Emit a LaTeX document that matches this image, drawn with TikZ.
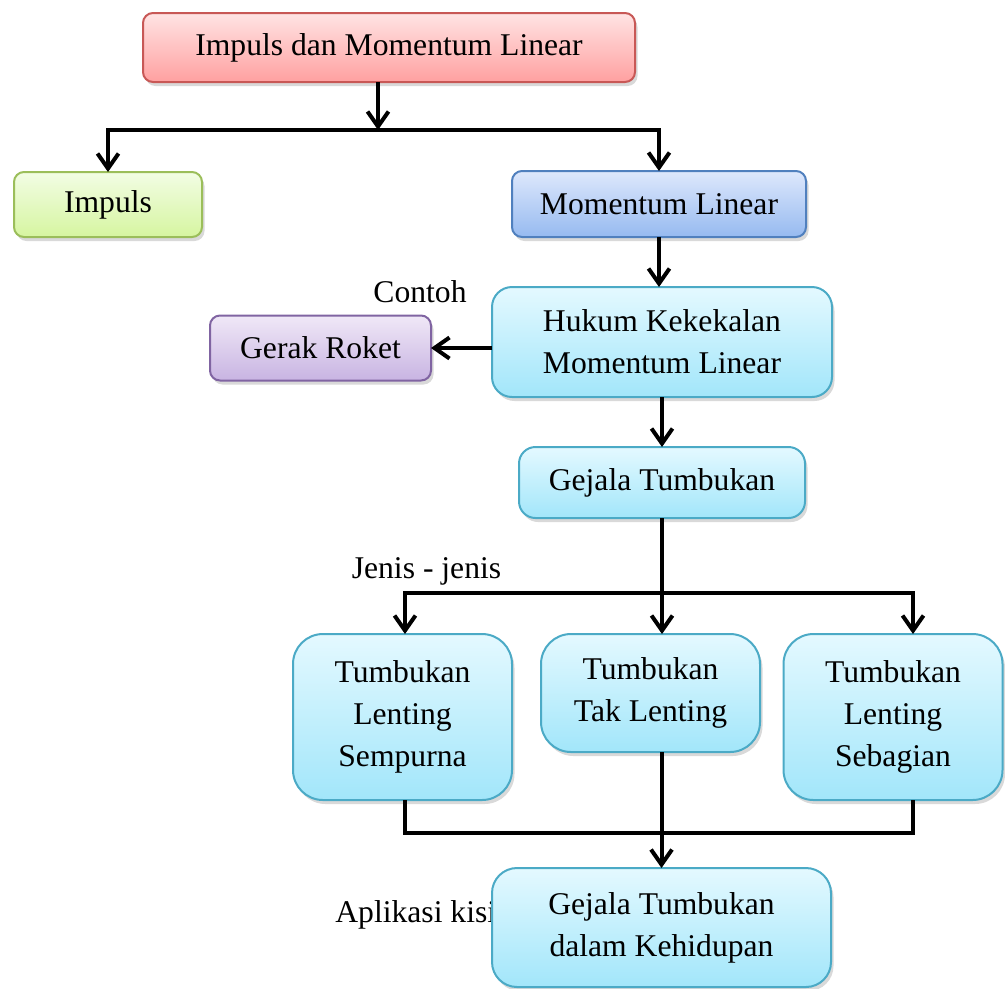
\documentclass[tikz,border=0pt]{standalone}
\usepackage{fontspec}
\setmainfont{Liberation Serif}
\usepackage{tikz}
\usetikzlibrary{positioning,shadows,arrows.meta}

\definecolor{redtop}{RGB}{255,228,228}
\definecolor{redbot}{RGB}{255,160,160}
\definecolor{redline}{RGB}{200,88,86}
\definecolor{greentop}{RGB}{242,253,228}
\definecolor{greenbot}{RGB}{214,245,160}
\definecolor{greenline}{RGB}{155,190,90}
\definecolor{bluetop}{RGB}{222,232,252}
\definecolor{bluebot}{RGB}{150,186,240}
\definecolor{blueline}{RGB}{80,128,190}
\definecolor{purpletop}{RGB}{240,232,247}
\definecolor{purplebot}{RGB}{200,180,226}
\definecolor{purpleline}{RGB}{128,100,162}
\definecolor{cyantop}{RGB}{228,249,255}
\definecolor{cyanbot}{RGB}{162,230,250}
\definecolor{cyanline}{RGB}{75,170,198}

\tikzstyle{arrow} = [line width=0.08cm, -{Straight Barb[length=0.3cm, width=0.42cm]}]
\tikzstyle{plainline} = [line width=0.08cm]
\tikzstyle{conceptnode} = [
    rectangle,                 % Shape
    draw,                      % Border
    line width=0.04cm,         % Thin border
    rounded corners=0.2cm,     % Rounded
    inner sep=0pt,
    outer sep=0pt,
    align=center,              % Centered text
    font={\fontsize{18}{24}\selectfont},
    drop shadow={shadow xshift=0.05cm, shadow yshift=-0.08cm, opacity=0.3}
]
\tikzstyle{redbox} = [conceptnode, top color=redtop, bottom color=redbot, draw=redline]
\tikzstyle{greenbox} = [conceptnode, top color=greentop, bottom color=greenbot, draw=greenline]
\tikzstyle{bluebox} = [conceptnode, top color=bluetop, bottom color=bluebot, draw=blueline]
\tikzstyle{purplebox} = [conceptnode, top color=purpletop, bottom color=purplebot, draw=purpleline]
\tikzstyle{cyanbox} = [conceptnode, top color=cyantop, bottom color=cyanbot, draw=cyanline]
\tikzstyle{lbl} = [inner sep=0pt, font={\fontsize{18}{24}\selectfont}]

\begin{document}
\begin{tikzpicture}
	\useasboundingbox (0,0) rectangle (20.1,-19.76);

	% Top-level concept
	\node[redbox, minimum width=9.84cm, minimum height=1.38cm] (game) at (7.78,-0.95) {Impuls dan Momentum Linear};

	% Impuls and momentum
	\node[greenbox, minimum width=3.76cm, minimum height=1.3cm, below=1.8cm of game, xshift=-5.62cm] (impuls) {Impuls};
	\node[bluebox, minimum width=5.88cm, minimum height=1.32cm, below=1.78cm of game, xshift=5.4cm] (ml) {Momentum Linear};

	% Conservation law
	\node[cyanbox, rounded corners=0.4cm, minimum width=6.8cm, minimum height=2.2cm, below=1cm of ml, xshift=0.06cm] (hukum) {Hukum Kekekalan\\Momentum Linear};
	\node[purplebox, minimum width=4.42cm, minimum height=1.3cm, left=1.22cm of hukum, yshift=-0.12cm] (roket) {Gerak Roket};
	\node[lbl, anchor=base] (contoh) at (8.4,-6.04) {Contoh};

	% Collisions
	\node[cyanbox, rounded corners=0.33cm, minimum width=5.72cm, minimum height=1.42cm, below=1cm of hukum] (gejala) {Gejala Tumbukan};
	\node[lbl, anchor=base] (jenis) at (8.53,-11.56) {Jenis - jenis};

	\node[cyanbox, rounded corners=0.6cm, minimum width=4.38cm, minimum height=3.32cm, below=2.32cm of gejala, xshift=-5.19cm] (sempurna) {Tumbukan\\Lenting\\Sempurna};
	\node[cyanbox, rounded corners=0.6cm, minimum width=4.38cm, minimum height=2.36cm, below=2.32cm of gejala, xshift=-0.23cm] (taklenting) {Tumbukan\\Tak Lenting};
	\node[cyanbox, rounded corners=0.6cm, minimum width=4.38cm, minimum height=3.32cm, below=2.32cm of gejala, xshift=4.62cm] (sebagian) {Tumbukan\\Lenting\\Sebagian};

	% Application
	\node[lbl, anchor=base west] (aplikasi) at (6.7,-18.44) {Aplikasi kisi};
	\node[cyanbox, rounded corners=0.5cm, minimum width=6.78cm, minimum height=2.38cm, below=2.32cm of taklenting, xshift=0.22cm] (kehidupan) {Gejala Tumbukan\\dalam Kehidupan};

	% Arrows
	\coordinate (hub1) at ([xshift=-0.22cm, yshift=-0.96cm]game.south);
	\draw[arrow] ([xshift=-0.22cm]game.south) -- (hub1);
	\draw[arrow] (hub1) -| (impuls.north);
	\draw[arrow] (hub1) -| (ml.north);
	\draw[arrow] (ml.south) -- (ml.south |- hukum.north);
	\draw[arrow] (hukum.west |- roket.east) -- (roket.east);
	\draw[arrow] (gejala.north |- hukum.south) -- (gejala.north);

	\coordinate (hub2) at ([yshift=-1.5cm]gejala.south);
	\draw[plainline] (gejala.south) -- (hub2);
	\draw[arrow] (hub2) -| ([xshift=0.05cm]sempurna.north);
	\draw[arrow] (hub2) -- (hub2 |- taklenting.north);
	\draw[arrow] (hub2) -| ([xshift=0.4cm]sebagian.north);

	\draw[plainline] ([xshift=0.05cm]sempurna.south) -- ++(0,-0.66) -| ([xshift=0.4cm]sebagian.south);
	\draw[arrow] (kehidupan.north |- taklenting.south) -- (kehidupan.north);
\end{tikzpicture}
\end{document}
